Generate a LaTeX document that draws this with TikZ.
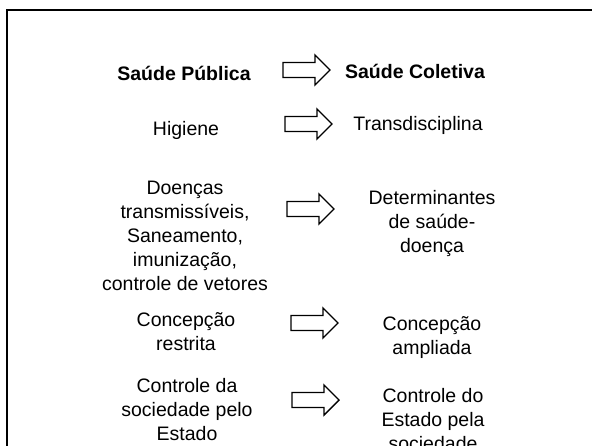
\documentclass[tikz,border=0pt]{standalone}
\usepackage{fontspec}
\setmainfont{Liberation Sans}
\begin{document}
\begin{tikzpicture}[x=1pt,y=-1pt,
  txt/.style={align=center,inner sep=0pt,font=\fontsize{19.5}{24}\selectfont},
  btxt/.style={txt,font=\fontsize{19.5}{24}\selectfont\bfseries},
  barrow/.style={draw=black,line width=1.4pt,fill=white,line join=miter}]
\useasboundingbox (0,0) rectangle (592,445);
\clip (0,0) rectangle (592,445);
\draw[line width=2pt] (7,460) -- (7,10) -- (600,10);
\newcommand{\blockarrow}[2]{%
  \draw[barrow] (#1,#2-7.5) -- (#1+32,#2-7.5) -- (#1+32,#2-15) -- (#1+47,#2) --
    (#1+32,#2+15) -- (#1+32,#2+7.5) -- (#1,#2+7.5) -- cycle;}
\node[btxt] (l1) at (184,73) {Saúde Pública};
\node[btxt] (r1) at (415,71) {Saúde Coletiva};
\node[txt] (l2) at (186,130) {Higiene};
\node[txt] (r2) at (418,125) {Transdisciplina};
\node[txt] (l3) at (185,236) {Doenças\\transmissíveis,\\Saneamento,\\imunização,\\controle de vetores};
\node[txt] (r3) at (432,223) {Determinantes\\de saúde-\\doença};
\node[txt] (l4) at (186,332) {Concepção\\restrita};
\node[txt] (r4) at (432,338) {Concepção\\ampliada};
\node[txt] (l5) at (187,410) {Controle da\\sociedade pelo\\Estado};
\node[txt] (r5) at (433,420) {Controle do\\Estado pela\\sociedade};
\blockarrow{283}{70}
\blockarrow{285}{124}
\blockarrow{287}{209}
\blockarrow{291}{323}
\blockarrow{292}{400}
\end{tikzpicture}
\end{document}
